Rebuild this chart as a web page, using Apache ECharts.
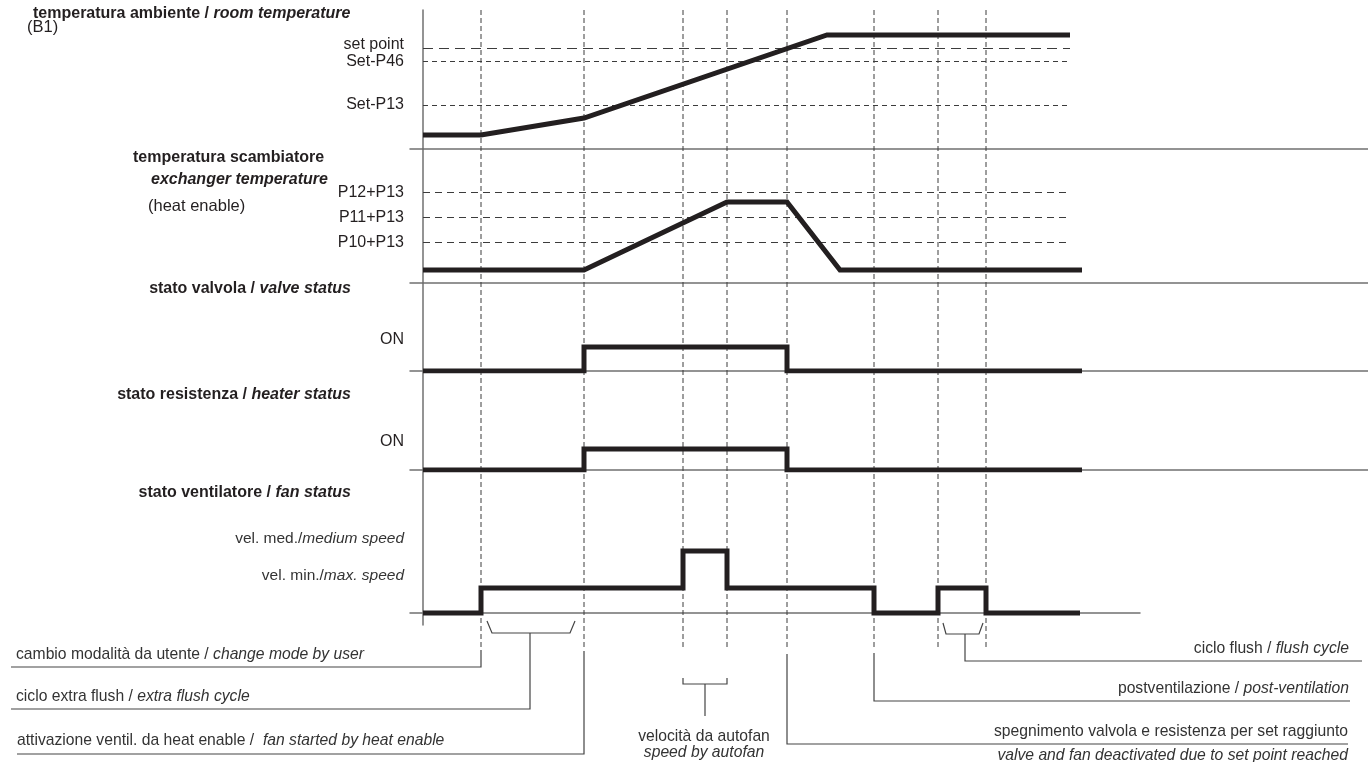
<!DOCTYPE html>
<html>
<head>
<meta charset="utf-8">
<title>diagramma funzionamento</title>
<script src="https://cdn.jsdelivr.net/npm/echarts@6/dist/echarts.min.js"></script>
<style>
  html, body { margin: 0; padding: 0; background: #fff; }
  #main { width: 1368px; height: 762px; }
</style>
</head>
<body>
<div id="main"></div>
<script>
// time axis: 0 = vertical axis, units
const eventTimes = [58, 161, 260, 304, 364, 451, 515, 563];

// temperatura ambiente (B1)
const roomTime = [0, 58, 161, 404, 647];
const roomTemp = [14, 14, 31, 114, 114];
const roomLevels = [101, 88, 44];
const roomLevelNames = ['set point', 'Set-P46', 'Set-P13'];

// temperatura scambiatore
const exchTime = [0, 161, 304, 364, 417, 659];
const exchTemp = [13, 13, 81, 81, 13, 13];
const exchLevels = [91, 66, 41];
const exchLevelNames = ['P12+P13', 'P11+P13', 'P10+P13'];

// valvola / resistenza: state from that time on
const valveTime = [0, 161, 364, 659];
const valveState = [0, 24, 0, 0];
const heaterTime = [0, 161, 364, 659];
const heaterState = [0, 21, 0, 0];

// ventilatore: 0 off, 25 min, 62 med
const fanTime = [0, 58, 260, 304, 451, 515, 563, 657];
const fanSpeed = [0, 25, 62, 25, 0, 25, 0, 0];
const fanLevels = [62, 25];
const fanLevelNames = [['vel. med./', 'medium speed'], ['vel. min./', 'max. speed']];

const INK = '#231f20';
const AXIS = '#707070';
const DASH = '#3c3c3c';
const FONT = "'Liberation Sans', Arial, sans-serif";

const chart = echarts.init(document.getElementById('main'));

// panels stacked on one time axis, 1 unit = 1 px
const panels = [
  { top: 10, height: 139, min: 0, max: 139, right: 0, xmax: 945 },
  { top: 149, height: 134, min: 0, max: 134, right: 0, xmax: 945 },
  { top: 283, height: 88, min: 0, max: 88, right: 0, xmax: 945 },
  { top: 371, height: 99, min: 0, max: 99, right: 0, xmax: 945 },
  { top: 470, height: 155, min: -12, max: 143, right: 228, xmax: 717 }
];

// where the axis labels sit (a bit off the levels, like the original)
const labelAt = [
  [104, 87, 44],
  [90, 65, 40],
  [31],
  [28],
  [74, 37]
];

function zip(xs, ys) {
  return xs.map((x, i) => [x, ys[i]]);
}

const grids = panels.map(p => ({ left: 410, right: p.right, top: p.top, height: p.height }));
grids.push({ left: 0, right: 0, top: 0, bottom: 0 });

const xAxes = panels.map((p, i) => ({
  type: 'value', gridIndex: i, min: -13, max: p.xmax,
  axisLine: { show: true, onZero: true, lineStyle: { color: AXIS, width: 1.5 } },
  axisTick: { show: false }, axisLabel: { show: false }, splitLine: { show: false }
}));
xAxes.push({ type: 'value', gridIndex: 5, min: -423, max: 945, show: false });

const yAxes = panels.map((p, i) => {
  let formatter;
  if (i === 0) formatter = v => roomLevelNames[labelAt[0].indexOf(v)];
  else if (i === 1) formatter = v => exchLevelNames[labelAt[1].indexOf(v)];
  else if (i === 4) formatter = v => {
    const n = fanLevelNames[labelAt[4].indexOf(v)];
    return '{r|' + n[0] + '}{i|' + n[1] + '}';
  };
  else formatter = () => 'ON';
  return {
    type: 'value', gridIndex: i, min: p.min, max: p.max,
    axisLine: { show: true, onZero: true, lineStyle: { color: AXIS, width: 1.5 } },
    axisTick: { show: false }, splitLine: { show: false },
    axisLabel: {
      show: true, customValues: labelAt[i], formatter: formatter, margin: 6,
      fontFamily: FONT, fontSize: 16, color: INK,
      rich: {
        r: { fontFamily: FONT, fontSize: 15.5, color: '#333' },
        i: { fontFamily: FONT, fontSize: 15.5, color: '#333', fontStyle: 'italic' }
      }
    }
  };
});
yAxes.push({ type: 'value', gridIndex: 5, min: 0, max: 762, inverse: true, show: false });

const thick = { color: INK, width: 5, join: 'miter', cap: 'butt' };

function levelLines(levels, dashes) {
  return levels.map((v, k) => [
    { coord: [0, v], lineStyle: { type: dashes[k], color: DASH, width: 1 } },
    { coord: [647, v] }
  ]);
}

const series = [
  {
    type: 'line', xAxisIndex: 0, yAxisIndex: 0, data: zip(roomTime, roomTemp),
    symbol: 'none', lineStyle: thick, z: 5,
    markLine: {
      silent: true, symbol: ['none', 'none'], label: { show: false },
      data: levelLines(roomLevels, [[10, 6], [5, 4], [5, 4]])
    }
  },
  {
    type: 'line', xAxisIndex: 1, yAxisIndex: 1, data: zip(exchTime, exchTemp),
    symbol: 'none', lineStyle: thick, z: 5,
    markLine: {
      silent: true, symbol: ['none', 'none'], label: { show: false },
      data: levelLines(exchLevels, [[7, 5], [7, 5], [7, 5]])
    }
  },
  { type: 'line', step: 'end', xAxisIndex: 2, yAxisIndex: 2, data: zip(valveTime, valveState), symbol: 'none', lineStyle: thick, z: 5 },
  { type: 'line', step: 'end', xAxisIndex: 3, yAxisIndex: 3, data: zip(heaterTime, heaterState), symbol: 'none', lineStyle: thick, z: 5 },
  { type: 'line', step: 'end', xAxisIndex: 4, yAxisIndex: 4, data: zip(fanTime, fanSpeed), symbol: 'none', lineStyle: thick, z: 5 }
];

// dashed event lines through all panels
series.push({
  type: 'lines', coordinateSystem: 'cartesian2d', xAxisIndex: 5, yAxisIndex: 5,
  polyline: true, silent: true, z: 1,
  lineStyle: { color: DASH, width: 1, type: [5, 3], opacity: 1 },
  data: eventTimes.map(t => ({ coords: [[t, 10], [t, 650]] }))
});

// leader lines and brackets of the notes
const [tUser, tHeat, tAuto1, tAuto2, tSet, tPost, tFl1, tFl2] = eventTimes;
const tAutoMid = (tAuto1 + tAuto2) / 2;
const leaders = [
  [[tUser, 650], [tUser, 667], [-412, 667]],
  [[tUser + 6, 621], [tUser + 11, 633], [tHeat - 14, 633], [tHeat - 9, 621]],
  [[107, 633], [107, 709], [-412, 709]],
  [[tHeat, 651], [tHeat, 754], [-406, 754]],
  [[tAuto1, 678], [tAuto1, 684], [tAuto2, 684], [tAuto2, 678]],
  [[tAutoMid, 684], [tAutoMid, 716]],
  [[tSet, 654], [tSet, 744], [925, 744]],
  [[tPost, 653], [tPost, 701], [927, 701]],
  [[tFl1 + 5, 623], [tFl1 + 8, 634], [tFl2 - 7, 634], [tFl2 - 3, 623]],
  [[542, 634], [542, 661], [939, 661]]
];
series.push({
  type: 'lines', coordinateSystem: 'cartesian2d', xAxisIndex: 5, yAxisIndex: 5,
  polyline: true, silent: true, z: 2,
  lineStyle: { color: '#444', width: 1.2, opacity: 1 },
  data: leaders.map(c => ({ coords: c }))
});

function txt(x, y, text, align, rich) {
  return {
    type: 'text', x: x, y: y, silent: true,
    style: {
      text: text, align: align, verticalAlign: 'middle',
      textAlign: align, textVerticalAlign: 'middle',
      font: '16px ' + FONT, fill: INK, rich: rich
    }
  };
}

const richTitle = {
  b: { fontFamily: FONT, fontSize: 16, fontWeight: 'bold', fill: INK, color: INK },
  bi: { fontFamily: FONT, fontSize: 16, fontWeight: 'bold', fontStyle: 'italic', fill: INK, color: INK },
  n: { fontFamily: FONT, fontSize: 16.5, fill: INK, color: INK }
};
const richNote = {
  n: { fontFamily: FONT, fontSize: 15.7, fill: '#333', color: '#333' },
  i: { fontFamily: FONT, fontSize: 15.7, fontStyle: 'italic', fill: '#333', color: '#333' }
};

const texts = [
  txt(33, 14, '{b|temperatura ambiente / }{bi|room temperature}', 'left', richTitle),
  txt(27, 27, '{n|(B1)}', 'left', richTitle),
  txt(133, 158, '{b|temperatura scambiatore}', 'left', richTitle),
  txt(151, 180, '{bi|exchanger temperature}', 'left', richTitle),
  txt(148, 206, '{n|(heat enable)}', 'left', richTitle),
  txt(351, 289, '{b|stato valvola / }{bi|valve status}', 'right', richTitle),
  txt(351, 395, '{b|stato resistenza / }{bi|heater status}', 'right', richTitle),
  txt(351, 493, '{b|stato ventilatore / }{bi|fan status}', 'right', richTitle),

  txt(16, 655, '{n|cambio modalità da utente / }{i|change mode by user}', 'left', richNote),
  txt(16, 697, '{n|ciclo extra flush / }{i|extra flush cycle}', 'left', richNote),
  txt(17, 741, '{n|attivazione ventil. da heat enable /  }{i|fan started by heat enable}', 'left', richNote),
  txt(704, 737, '{n|velocità da autofan}', 'center', richNote),
  txt(704, 753, '{i|speed by autofan}', 'center', richNote),
  txt(1349, 649, '{n|ciclo flush / }{i|flush cycle}', 'right', richNote),
  txt(1349, 689, '{n|postventilazione / }{i|post-ventilation}', 'right', richNote),
  txt(1348, 732, '{n|spegnimento valvola e resistenza per set raggiunto}', 'right', richNote),
  txt(1348, 756, '{i|valve and fan deactivated due to set point reached}', 'right', richNote)
];

chart.setOption({
  animation: false,
  backgroundColor: '#ffffff',
  grid: grids,
  xAxis: xAxes,
  yAxis: yAxes,
  series: series,
  graphic: { elements: texts }
});
</script>
</body>
</html>
